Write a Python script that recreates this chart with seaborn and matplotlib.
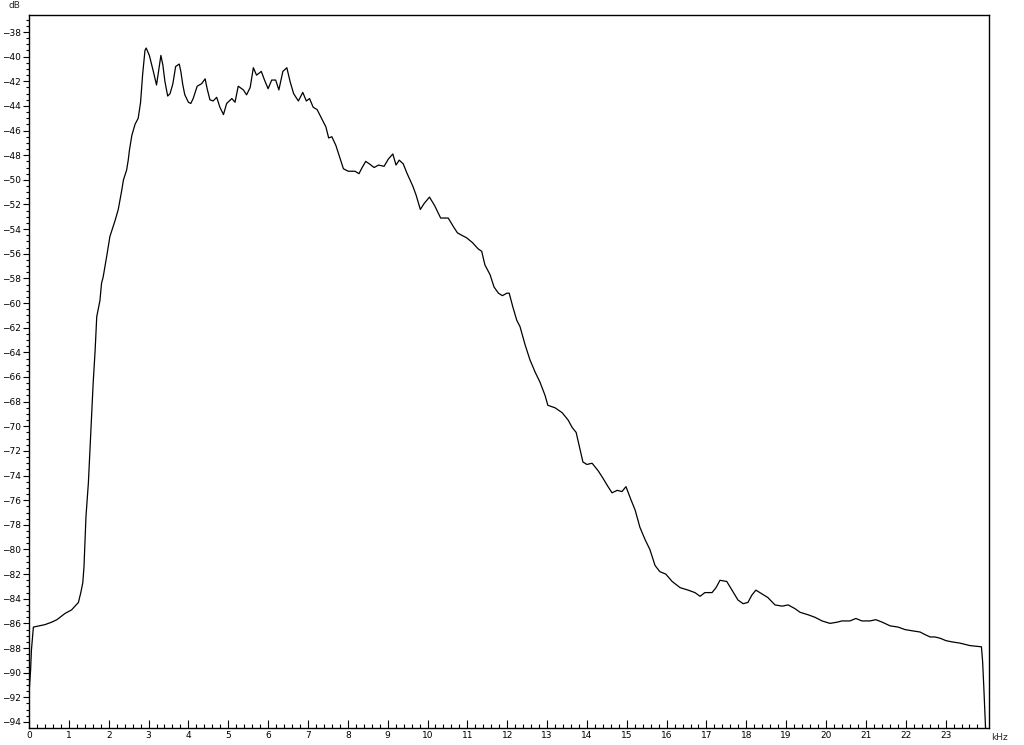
"""
Spectrum plot: level in dB against frequency in kHz
"""

import numpy as np
import pandas as pd
import matplotlib
matplotlib.use('Agg')
import matplotlib.pyplot as plt
from matplotlib.ticker import MultipleLocator
import seaborn as sns

# frequency of each spectrum point (kHz)
freq_khz = [0.01, 0.04, 0.06, 0.11, 0.40, 0.57, 0.70, 0.90, 1.07, 1.24,
            1.30, 1.35, 1.38, 1.43, 1.49, 1.53, 1.57, 1.61, 1.66, 1.70,
            1.78, 1.82, 1.86, 1.95, 2.03, 2.08, 2.16, 2.24, 2.33, 2.37,
            2.45, 2.49, 2.52, 2.58, 2.66, 2.74, 2.80, 2.85, 2.91, 2.94,
            3.02, 3.12, 3.20, 3.27, 3.31, 3.36, 3.41, 3.48, 3.54, 3.61,
            3.68, 3.77, 3.81, 3.86, 3.91, 4.00, 4.06, 4.12, 4.22, 4.33,
            4.42, 4.47, 4.54, 4.62, 4.71, 4.79, 4.88, 4.96, 5.09, 5.17,
            5.25, 5.38, 5.46, 5.55, 5.63, 5.71, 5.83, 5.91, 6.00, 6.09,
            6.19, 6.27, 6.37, 6.47, 6.55, 6.64, 6.76, 6.87, 6.96, 7.04,
            7.13, 7.23, 7.34, 7.45, 7.52, 7.60, 7.70, 7.79, 7.89, 8.01,
            8.18, 8.28, 8.36, 8.45, 8.54, 8.66, 8.77, 8.91, 9.02, 9.13,
            9.21, 9.29, 9.39, 9.49, 9.63, 9.71, 9.82, 9.92, 10.05, 10.18,
            10.24, 10.33, 10.52, 10.65, 10.75, 10.86, 10.98, 11.13, 11.27, 11.36,
            11.44, 11.57, 11.67, 11.78, 11.88, 11.99, 12.05, 12.14, 12.24, 12.32,
            12.45, 12.57, 12.70, 12.82, 12.95, 13.02, 13.20, 13.38, 13.53, 13.63,
            13.73, 13.83, 13.90, 14.00, 14.13, 14.28, 14.40, 14.53, 14.63, 14.76,
            14.88, 14.98, 15.11, 15.21, 15.33, 15.46, 15.58, 15.71, 15.83, 15.98,
            16.14, 16.34, 16.54, 16.71, 16.84, 16.96, 17.14, 17.24, 17.34, 17.51,
            17.64, 17.79, 17.92, 18.04, 18.14, 18.24, 18.39, 18.54, 18.72, 18.90,
            19.05, 19.22, 19.35, 19.55, 19.72, 19.90, 20.10, 20.28, 20.40, 20.60,
            20.75, 20.90, 21.10, 21.25, 21.41, 21.61, 21.81, 21.98, 22.16, 22.36,
            22.48, 22.61, 22.73, 22.86, 23.01, 23.16, 23.36, 23.49, 23.61, 23.90,
            23.93, 23.96, 24.01]

# level of each spectrum point (dB)
level_db = [-91.2, -89.8, -88.2, -86.3, -86.1, -85.9, -85.7, -85.2, -84.9, -84.3,
            -83.5, -82.7, -81.4, -77.3, -74.6, -71.9, -69.2, -66.5, -63.8, -61.1,
            -59.8, -58.4, -57.9, -56.2, -54.6, -54.1, -53.3, -52.4, -50.8, -50.0,
            -49.2, -48.4, -47.6, -46.4, -45.5, -45.0, -43.7, -41.5, -39.5, -39.3,
            -39.9, -41.2, -42.3, -40.8, -39.9, -40.7, -42.0, -43.2, -43.0, -42.2,
            -40.8, -40.6, -41.2, -42.3, -43.1, -43.7, -43.8, -43.4, -42.4, -42.2,
            -41.8, -42.6, -43.5, -43.6, -43.3, -44.1, -44.7, -43.8, -43.4, -43.7,
            -42.4, -42.7, -43.1, -42.5, -40.9, -41.5, -41.2, -41.9, -42.6, -41.9,
            -41.9, -42.7, -41.2, -40.9, -42.0, -43.0, -43.6, -42.9, -43.6, -43.4,
            -44.1, -44.3, -45.0, -45.7, -46.6, -46.5, -47.2, -48.1, -49.1, -49.3,
            -49.3, -49.5, -49.0, -48.5, -48.7, -49.0, -48.8, -48.9, -48.3, -47.9,
            -48.8, -48.4, -48.7, -49.5, -50.5, -51.2, -52.4, -51.9, -51.4, -52.1,
            -52.5, -53.1, -53.1, -53.8, -54.3, -54.5, -54.7, -55.1, -55.6, -55.8,
            -56.9, -57.7, -58.7, -59.2, -59.4, -59.2, -59.2, -60.3, -61.4, -61.9,
            -63.4, -64.6, -65.6, -66.4, -67.5, -68.3, -68.5, -68.9, -69.5, -70.1,
            -70.5, -71.9, -72.9, -73.1, -73.0, -73.6, -74.2, -74.9, -75.4, -75.2,
            -75.3, -74.9, -76.0, -76.8, -78.2, -79.2, -80.0, -81.3, -81.8, -82.0,
            -82.6, -83.1, -83.3, -83.5, -83.8, -83.5, -83.5, -83.1, -82.5, -82.6,
            -83.3, -84.1, -84.4, -84.3, -83.7, -83.3, -83.6, -83.9, -84.5, -84.6,
            -84.5, -84.8, -85.1, -85.3, -85.5, -85.8, -86.0, -85.9, -85.8, -85.8,
            -85.6, -85.8, -85.8, -85.7, -85.9, -86.2, -86.3, -86.5, -86.6, -86.7,
            -86.9, -87.1, -87.1, -87.2, -87.4, -87.5, -87.6, -87.7, -87.8, -87.9,
            -89.1, -91.2, -95.0]

x_ticks = list(range(0, 24))
y_ticks = list(range(-94, -37, 2))


def draw_spectrum():
    """
    Plot the spectrum curve on a plain framed axis
    """
    df = pd.DataFrame({'kHz': freq_khz, 'dB': level_db})

    sns.set_style('white')
    plt.rcParams['font.family'] = ['DejaVu Sans']

    fig = plt.figure(figsize=(10.24, 7.45), dpi=100)
    ax = fig.add_axes([29 / 1024, 17 / 745, 960 / 1024, 713 / 745])

    sns.lineplot(data=df, x='kHz', y='dB', sort=False, estimator=None,
                 color='black', linewidth=0.9, ax=ax)

    ax.set_xlim(0, 24.09)
    ax.set_ylim(-94.49, -36.62)
    ax.set_xticks(x_ticks)
    ax.set_yticks(y_ticks)
    ax.xaxis.set_minor_locator(MultipleLocator(0.2))
    ax.yaxis.set_minor_locator(MultipleLocator(0.5))

    for spine in ax.spines.values():
        spine.set_color('black')
        spine.set_linewidth(1.0)

    # seaborn's white style switches the tick marks off, bring them back
    ax.tick_params(axis='both', which='both', bottom=True, left=True, top=False, right=False,
                   colors='black', labelsize=6.5, width=0.8)
    ax.tick_params(axis='x', which='major', direction='in', length=6, pad=2)
    ax.tick_params(axis='x', which='minor', direction='in', length=3)
    ax.tick_params(axis='y', which='major', direction='out', length=4, pad=2)
    ax.tick_params(axis='y', which='minor', direction='out', length=2)
    ax.set_xlabel('')
    ax.set_ylabel('')

    fig.text(14 / 1024, 1 - 5 / 745, 'dB', fontsize=6.5, ha='center', va='center')
    fig.text(1000 / 1024, 1 - 738 / 745, 'kHz', fontsize=6.5, ha='center', va='center')

    fig.savefig('out.png', dpi=100, facecolor='white')


draw_spectrum()
